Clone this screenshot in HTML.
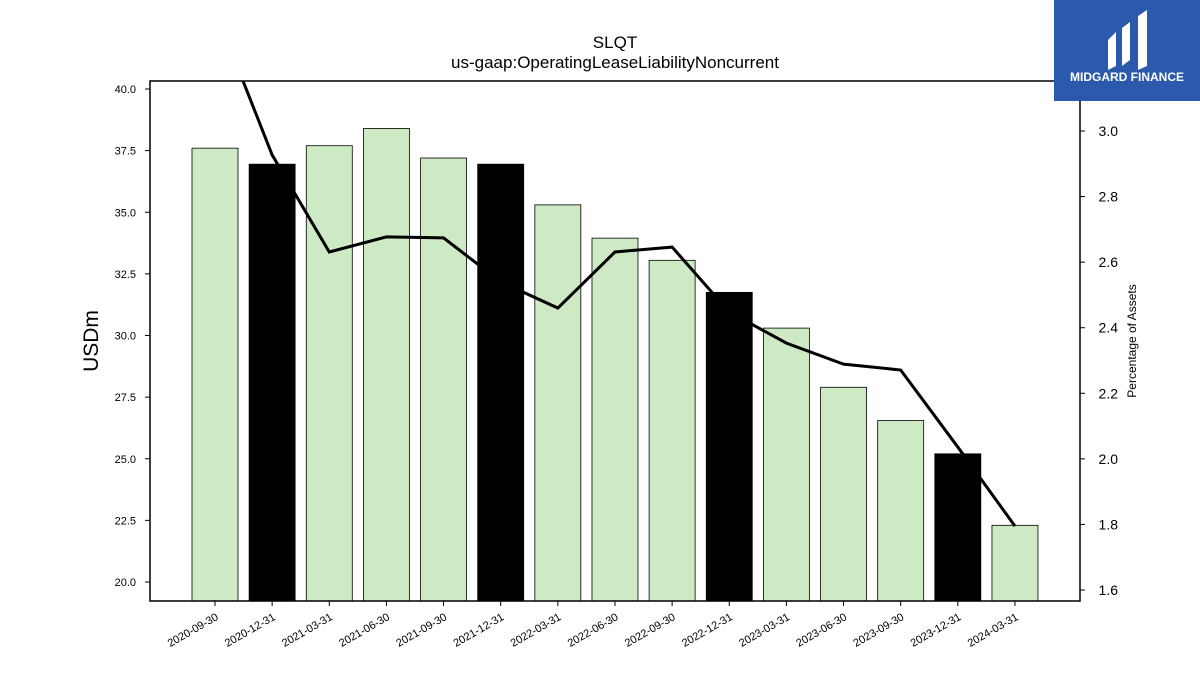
<!DOCTYPE html>
<html><head><meta charset="utf-8"><style>
body{margin:0;background:#fff;font-family:"Liberation Sans",sans-serif;}
svg text{font-family:"Liberation Sans",sans-serif;}
</style></head><body>
<svg width="1200" height="675" xmlns="http://www.w3.org/2000/svg">
<rect width="1200" height="675" fill="#fff"/>
<text x="615" y="48" font-size="17" text-anchor="middle">SLQT</text>
<text x="615" y="68" font-size="17" text-anchor="middle">us-gaap:OperatingLeaseLiabilityNoncurrent</text>
<g id="bars"></g>
<g id="line"></g>
<rect x="150" y="81" width="930" height="520" fill="none" stroke="#000" stroke-width="1.5"/>
<g id="axes"></g>
<text transform="translate(98,341) rotate(-90)" font-size="21" text-anchor="middle">USDm</text>
<text transform="translate(1136,341) rotate(-90)" font-size="12" text-anchor="middle">Percentage of Assets</text>
<g>
<rect x="1054" y="0" width="146" height="101" fill="#2b5aac"/>
<path d="M1108 40 L1116 32 L1116 66 L1108 70 Z M1122 28 L1130 22 L1130 60 L1122 66 Z M1138 16 L1147 10 L1147 66 L1138 70 Z" fill="#fff"/>
<text x="1127" y="81" font-size="12" font-weight="bold" fill="#fff" text-anchor="middle">MIDGARD FINANCE</text>
</g>
</svg>
<script>
const categories=["2020-09-30","2020-12-31","2021-03-31","2021-06-30","2021-09-30","2021-12-31","2022-03-31","2022-06-30","2022-09-30","2022-12-31","2023-03-31","2023-06-30","2023-09-30","2023-12-31","2024-03-31"];
const barValues=[37.6,36.95,37.7,38.4,37.2,36.95,35.3,33.95,33.05,31.75,30.3,27.9,26.55,25.2,22.3];
const highlighted=[false,true,false,false,false,true,false,false,false,true,false,false,false,true,false];
const pctValues=[3.37,2.927,2.631,2.677,2.674,2.54,2.46,2.631,2.646,2.448,2.353,2.289,2.271,2.036,1.795];
const leftTicks=[20.0,22.5,25.0,27.5,30.0,32.5,35.0,37.5,40.0];
const rightTicks=[1.6,1.8,2.0,2.2,2.4,2.6,2.8,3.0];
const NS="http://www.w3.org/2000/svg";
const X0=150,X1=1080,Y0=81,Y1=601;
const yL=v=>582-(v-20)/2.5*61.625;
const yR=v=>590-(v-1.6)/0.2*65.57;
const xC=i=>215+i*57.14;
function mk(t,a,p){const e=document.createElementNS(NS,t);for(const k in a)e.setAttribute(k,a[k]);p.appendChild(e);return e;}
const bars=document.getElementById('bars');
barValues.forEach((v,i)=>{
 const y=yL(v);
 const r=mk('rect',{x:xC(i)-23,y:y,width:46,height:Y1-y,fill:highlighted[i]?'#000':'#cdeac5',stroke:'#000','stroke-width':0.8},bars);
 
 
});
const lg=document.getElementById('line');
const cp=mk('clipPath',{id:'cp'},lg);mk('rect',{x:X0,y:Y0,width:X1-X0,height:Y1-Y0},cp);
const pl=mk('polyline',{points:pctValues.map((v,i)=>xC(i)+','+yR(v)).join(' '),fill:'none',stroke:'#000','stroke-width':3,'clip-path':'url(#cp)'},lg);


const ax=document.getElementById('axes');
leftTicks.forEach(v=>{
 const y=yL(v);
 mk('line',{x1:X0-5,x2:X0,y1:y,y2:y,stroke:'#000'},ax);
 const t=mk('text',{x:X0-14,y:y+4,'font-size':11,'text-anchor':'end'},ax);t.textContent=v.toFixed(1);
 
 
});
rightTicks.forEach(v=>{
 const y=yR(v);
 mk('line',{x1:X1,x2:X1+5,y1:y,y2:y,stroke:'#000'},ax);
 const t=mk('text',{x:X1+38,y:y+5,'font-size':14,'text-anchor':'end'},ax);t.textContent=v.toFixed(1);
 
 
});
categories.forEach((c,i)=>{
 const x=xC(i);
 mk('line',{x1:x,x2:x,y1:Y1,y2:Y1+5,stroke:'#000'},ax);
 const t=mk('text',{x:x+4,y:Y1+18,'font-size':11,'text-anchor':'end',transform:`rotate(-30 ${x+4} ${Y1+18})`},ax);t.textContent=c;
 
 
});
</script>
</body></html>
